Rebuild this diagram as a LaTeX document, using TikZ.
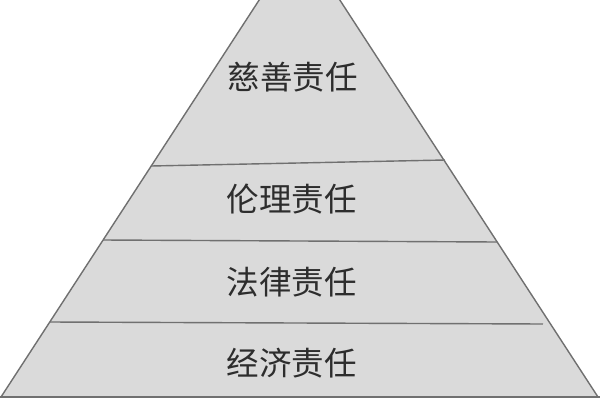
\documentclass[tikz,border=0pt]{standalone}
\usepackage{fontspec}
\newfontfamily\cjk{Noto Sans CJK SC}
\usepackage{tikz}
\usepackage{xcolor}
\definecolor{LayerGray}{RGB}{218,218,218}
\definecolor{EdgeGray}{RGB}{112,112,112}
\definecolor{TextGray}{RGB}{45,45,45}
\tikzset{
	layer/.style={fill=LayerGray, draw=EdgeGray, line width=0.8pt, line join=round},
	divider/.style={EdgeGray, line width=0.8pt},
	baseline/.style={EdgeGray, line width=1.2pt},
	tier/.style={text=TextGray, font=\cjk\fontsize{18.5}{20}\selectfont, inner sep=0pt},
}

\begin{document}
\begin{tikzpicture}[x=0.02cm, y=-0.02cm]
			% picture frame, apex runs out of the top
			\useasboundingbox (0,0) rectangle (600,400);
			\clip (0,0) rectangle (600,400);
			
			% the pyramid body
			\coordinate (apex) at (299.5,-62);
			\coordinate (bl) at (1,397);
			\coordinate (br) at (598,397);
			\draw[layer] (bl) -- (apex) -- (br) -- cycle;
			
			% layer borders (slightly tilted, as drawn by hand)
			\draw[divider] (151,166) -- (445,160);
			\draw[divider] (103,240) -- (497,242);
			\draw[divider] (50,322) -- (543,324);
			\draw[baseline] (0,397) -- (600,397);
			
			% layer names, top to bottom
			\node[tier] (charity) at (293,77) {慈善责任};
			\node[tier] (ethics) at (292,199) {伦理责任};
			\node[tier] (law) at (292,282) {法律责任};
			\node[tier] (economy) at (292,363) {经济责任};
		\end{tikzpicture}
\end{document}
